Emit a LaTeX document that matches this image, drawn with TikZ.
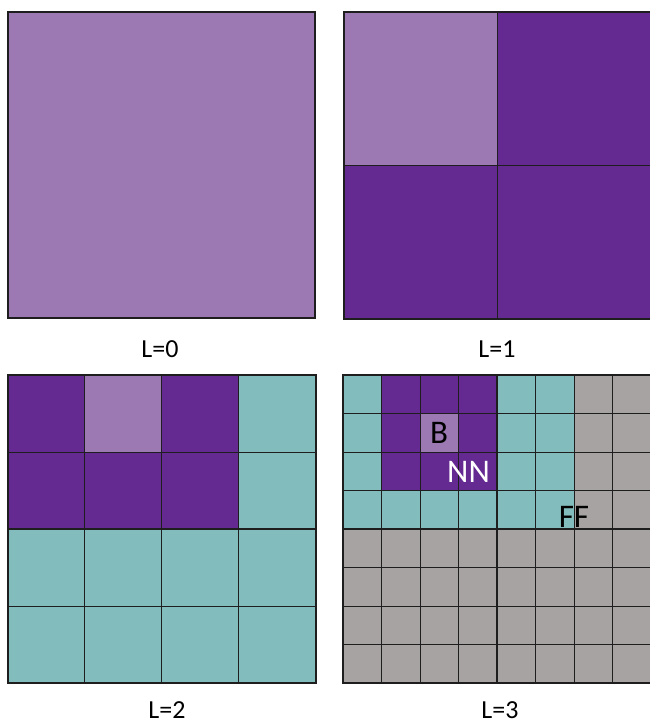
\documentclass[tikz,border=0pt]{standalone}
\usepackage{fontspec}
\setmainfont{Carlito}
\definecolor{cL}{HTML}{9D79B4}
\definecolor{cD}{HTML}{652A91}
\definecolor{cT}{HTML}{83BCBC}
\definecolor{cG}{HTML}{A6A3A2}
\definecolor{edge}{HTML}{1E1E1E}
\begin{document}
\begin{tikzpicture}[x=1pt,y=-1pt,
  outer/.style={draw=edge,line width=2pt},
  thinline/.style={draw=edge,line width=1pt},
  midline/.style={draw=edge,line width=1.7pt},
  lvl/.style={font=\fontsize{26}{26}\selectfont,anchor=base,inner sep=0pt},
  tag/.style={font=\fontsize{33}{33}\selectfont,anchor=base,inner sep=0pt}]
\useasboundingbox (0,0) rectangle (649,726);
\fill[white] (0,0) rectangle (649,726);

% ---------- Panel L=0
\fill[cL] (8,12) rectangle (315,318);
\draw[outer] (8,12) rectangle (315,318);

% ---------- Panel L=1
\begin{scope}
\def\ox{344}\def\oy{12}\def\cs{153.5}
\foreach \row [count=\r from 0] in {{cL,cD},{cD,cD}}{
  \foreach \col [count=\c from 0] in \row{
    \fill[\col] (\ox+\c*\cs,\oy+\r*\cs) rectangle (\ox+\c*\cs+\cs,\oy+\r*\cs+\cs);
  }
}
\draw[midline] (\ox+\cs,\oy) -- (\ox+\cs,\oy+2*\cs);
\draw[midline] (\ox,\oy+\cs) -- (\ox+2*\cs,\oy+\cs);
\draw[outer] (\ox,\oy) rectangle (\ox+2*\cs,\oy+2*\cs);
\end{scope}

% ---------- Panel L=2
\begin{scope}
\def\ox{7.5}\def\oy{375}\def\cs{77}
\foreach \row [count=\r from 0] in {{cD,cL,cD,cT},{cD,cD,cD,cT},{cT,cT,cT,cT},{cT,cT,cT,cT}}{
  \foreach \col [count=\c from 0] in \row{
    \fill[\col] (\ox+\c*\cs,\oy+\r*\cs) rectangle (\ox+\c*\cs+\cs,\oy+\r*\cs+\cs);
  }
}
\foreach \i in {1,3}{
  \draw[thinline] (\ox+\i*\cs,\oy) -- (\ox+\i*\cs,\oy+4*\cs);
  \draw[thinline] (\ox,\oy+\i*\cs) -- (\ox+4*\cs,\oy+\i*\cs);
}
\draw[midline] (\ox+2*\cs,\oy) -- (\ox+2*\cs,\oy+4*\cs);
\draw[midline] (\ox,\oy+2*\cs) -- (\ox+4*\cs,\oy+2*\cs);
\draw[outer] (\ox,\oy) rectangle (\ox+4*\cs,\oy+4*\cs);
\end{scope}

% ---------- Panel L=3
\begin{scope}
\def\ox{343}\def\oy{375}\def\cs{38.5}
\foreach \row [count=\r from 0] in {
  {cT,cD,cD,cD,cT,cT,cG,cG},
  {cT,cD,cL,cD,cT,cT,cG,cG},
  {cT,cD,cD,cD,cT,cT,cG,cG},
  {cT,cT,cT,cT,cT,cT,cG,cG},
  {cG,cG,cG,cG,cG,cG,cG,cG},
  {cG,cG,cG,cG,cG,cG,cG,cG},
  {cG,cG,cG,cG,cG,cG,cG,cG},
  {cG,cG,cG,cG,cG,cG,cG,cG}}{
  \foreach \col [count=\c from 0] in \row{
    \fill[\col] (\ox+\c*\cs,\oy+\r*\cs) rectangle (\ox+\c*\cs+\cs,\oy+\r*\cs+\cs);
  }
}
\foreach \i in {1,2,3,5,6,7}{
  \draw[thinline] (\ox+\i*\cs,\oy) -- (\ox+\i*\cs,\oy+8*\cs);
  \draw[thinline] (\ox,\oy+\i*\cs) -- (\ox+8*\cs,\oy+\i*\cs);
}
\draw[midline] (\ox+4*\cs,\oy) -- (\ox+4*\cs,\oy+8*\cs);
\draw[midline] (\ox,\oy+4*\cs) -- (\ox+8*\cs,\oy+4*\cs);
\draw[outer] (\ox,\oy) rectangle (\ox+8*\cs,\oy+8*\cs);
\end{scope}

% ---------- Labels
\node[tag] (b) at (439,443.5) {B};
\node[tag,text=white] (nn) at (468.5,482) {NN};
\node[tag] (ff) at (574,527.5) {FF};

\node[lvl] (l0) at (160,357) {L=0};
\node[lvl] (l1) at (497,357) {L=1};
\node[lvl] (l2) at (167,718) {L=2};
\node[lvl] (l3) at (500,718) {L=3};
\end{tikzpicture}
\end{document}
